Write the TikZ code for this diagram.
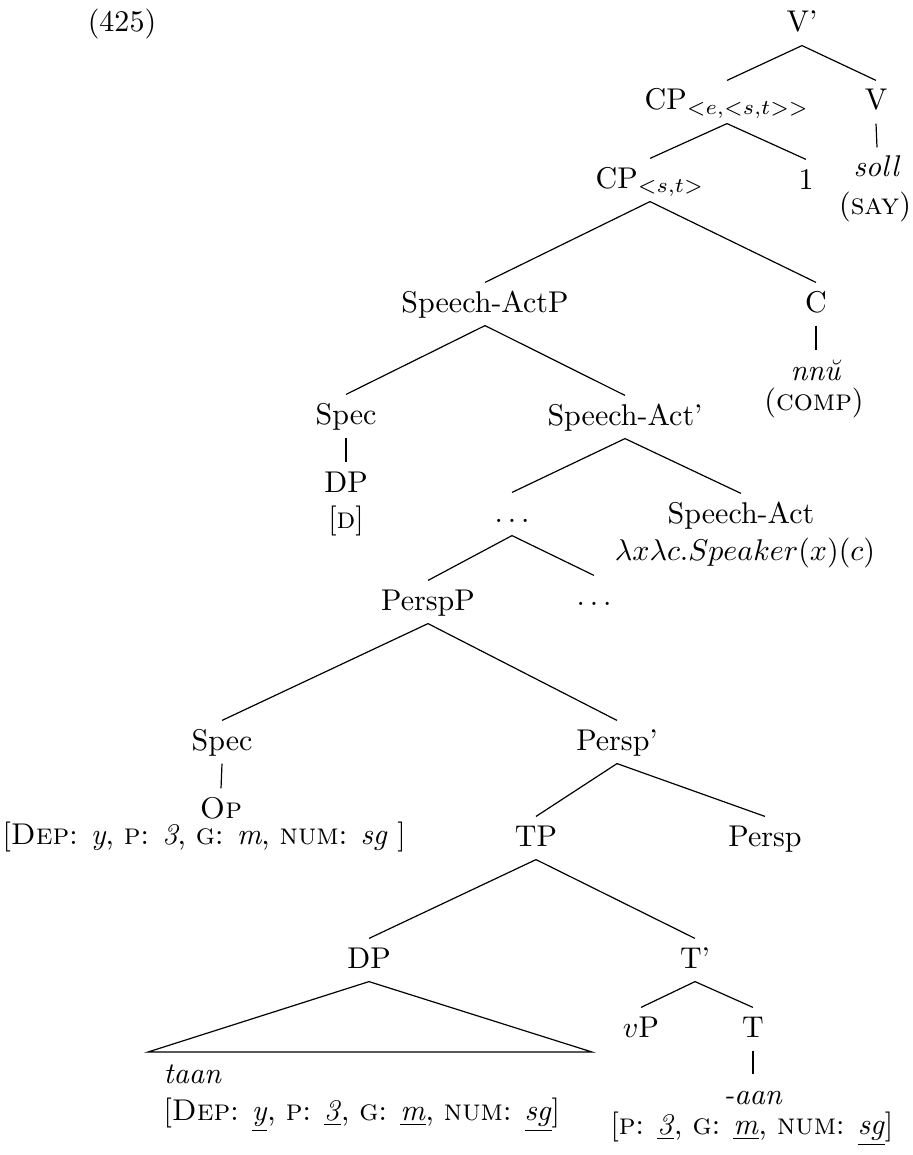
\documentclass[tikz,border=0pt]{standalone}
\usepackage{amssymb,amsmath}
\usepackage{tikz}
\usetikzlibrary{positioning}
\tikzstyle{cat} = [anchor=base, inner xsep=1pt, inner ysep=2.83pt, text height=6.83pt, text depth=1.5pt]
\tikzstyle{feat} = [anchor=base west, inner sep=0pt]
\tikzstyle{branch} = [line width=0.4pt]

\begin{document}
\begin{tikzpicture}[x=0.3333pt, y=-0.3333pt]
    \useasboundingbox (0,0) rectangle (913,1155);

    \node[cat] (ex) at (122,32) {(425)};

    \node[cat] (vbar) at (802,32) {V'};
    \node[cat] (cpe) at (727,110) {CP$_{<e,<s,t>>}$};
    \node[cat] (v) at (876,110) {V};
    \node[cat] (cpst) at (650,188) {CP$_{<s,t>}$};
    \node[cat] (one) at (806,189) {1};
    \node[cat] (soll) at (877,177) {\textit{soll}};
    \node[cat] (say) at (875,215) {(\textsc{say})};

    \node[cat] (sap) at (485,312) {Speech-ActP};
    \node[cat] (c) at (816,312) {C};
    \node[cat] (nnu) at (816,380) {\textit{nn\u{u}}};
    \node[cat] (comp) at (814,410) {(\textsc{comp})};

    \node[cat] (spec1) at (346,424) {Spec};
    \node[cat] (sabar) at (625,425) {Speech-Act'};
    \node[cat] (dp1) at (346,492) {DP};
    \node[cat] (dfeat) at (346,528) {[\textsc{d}]};
    \node[cat] (dots1) at (512,522) {$\ldots$};
    \node[cat] (sa) at (741,523) {Speech-Act};
    \node[cat] (sasem) at (745,560) {$\lambda x \lambda c. Speaker(x)(c)$};

    \node[cat] (perspp) at (428,610) {PerspP};
    \node[cat] (dots2) at (594,605) {$\ldots$};

    \node[cat] (spec2) at (222,750) {Spec};
    \node[cat] (perspbar) at (617,750) {Persp'};
    \node[cat] (op) at (221,818) {\textsc{Op}};
    \node[feat] (opfeat) at (2,844) {[\textsc{Dep}: \textit{y}, \textsc{p}: \textit{3}, \textsc{g}: \textit{m}, \textsc{num}: \textit{sg} ]};
    \node[cat] (tp) at (536,846) {TP};
    \node[cat] (persp) at (765,846) {Persp};

    \node[cat] (dp2) at (369,968) {DP};
    \node[cat] (tbar) at (695,968) {T'};
    \coordinate (trileft) at (148,1052);
    \coordinate (triright) at (592,1052);
    \node[feat] (taan) at (163,1083) {\textit{taan}};
    \node[feat] (dpfeat) at (163,1120) {[\textsc{Dep}: \underline{\textit{y}}, \textsc{p}: \underline{\textit{3}}, \textsc{g}: \underline{\textit{m}}, \textsc{num}: \underline{\textit{sg}}]};
    \node[cat] (vp) at (641,1037) {$v$P};
    \node[cat] (t) at (753,1037) {T};
    \node[cat] (aan) at (753,1104) {\textit{-aan}};
    \node[feat] (tfeat) at (610,1134) {[\textsc{p}: \underline{\textit{3}}, \textsc{g}: \underline{\textit{m}}, \textsc{num}: \underline{\textit{sg}}]};

    \draw[branch] (vbar.south) -- (cpe.north);
    \draw[branch] (vbar.south) -- (v.north);
    \draw[branch] (cpe.south) -- (cpst.north);
    \draw[branch] (cpe.south) -- (one.north);
    \draw[branch] (v.south) -- (soll.north);
    \draw[branch] (cpst.south) -- (sap.north);
    \draw[branch] (cpst.south) -- (c.north);
    \draw[branch] (c.south) -- (nnu.north);
    \draw[branch] (sap.south) -- (spec1.north);
    \draw[branch] (sap.south) -- (sabar.north);
    \draw[branch] (spec1.south) -- (dp1.north);
    \draw[branch] (sabar.south) -- (dots1.north);
    \draw[branch] (sabar.south) -- (sa.north);
    \draw[branch] (dots1.south) -- (perspp.north);
    \draw[branch] (dots1.south) -- (dots2.north);
    \draw[branch] (perspp.south) -- (spec2.north);
    \draw[branch] (perspp.south) -- (perspbar.north);
    \draw[branch] (spec2.south) -- (op.north);
    \draw[branch] (perspbar.south) -- (tp.north);
    \draw[branch] (perspbar.south) -- (persp.north);
    \draw[branch] (tp.south) -- (dp2.north);
    \draw[branch] (tp.south) -- (tbar.north);
    \draw[branch] (dp2.south) -- (trileft) -- (triright) -- cycle;
    \draw[branch] (tbar.south) -- (vp.north);
    \draw[branch] (tbar.south) -- (t.north);
    \draw[branch] (t.south) -- (aan.north);
\end{tikzpicture}
\end{document}
